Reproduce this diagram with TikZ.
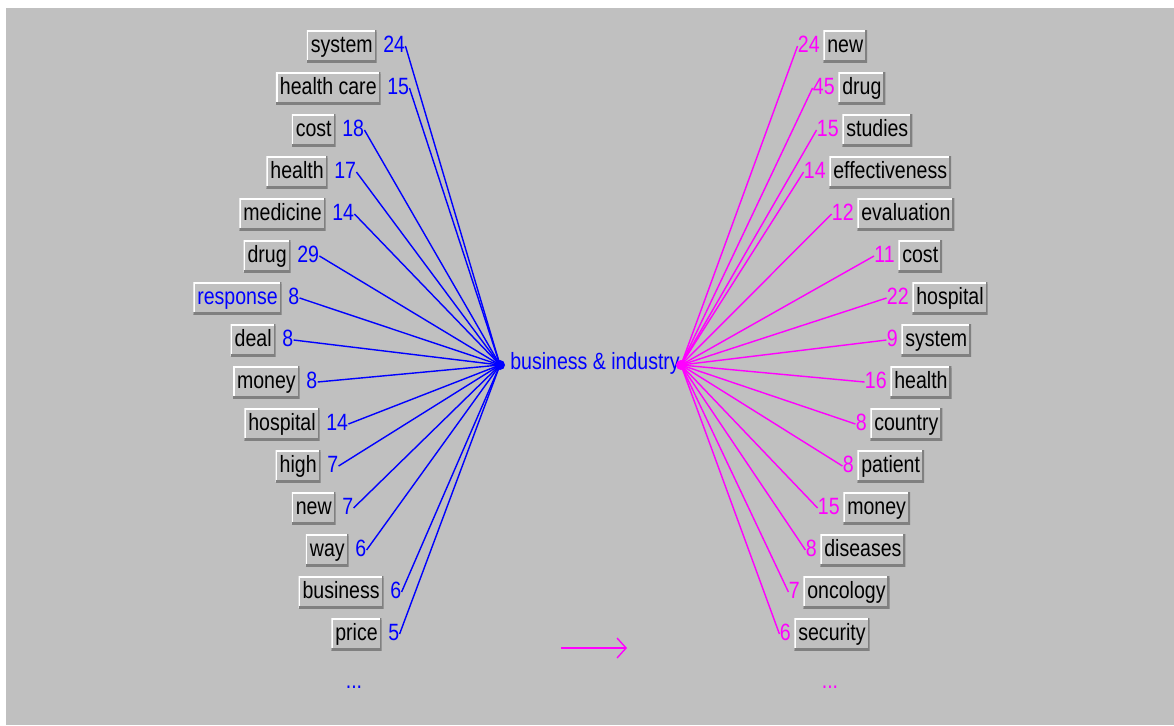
\documentclass[tikz,border=0pt]{standalone}
\usepackage{fontspec}
\setmainfont{Liberation Sans}[FakeStretch=0.83]
\usepackage{tikz}
\usepackage{xcolor}
\usetikzlibrary{positioning, arrows.meta}
\definecolor{panel}{HTML}{C0C0C0}
\definecolor{shade}{HTML}{808080}
\definecolor{leftc}{HTML}{0000FF}
\definecolor{rightc}{HTML}{FF00FF}

\begin{document}
\begin{tikzpicture}[
        x=0.02cm, y=-0.02cm,
        font=\fontsize{13.4}{16}\selectfont,
        node distance=0.12cm,
        wbox/.style={rectangle, fill=panel, text=black, inner xsep=0.08cm,
                     inner ysep=0pt, minimum height=0.64cm,
                     text height=0.36cm, text depth=0.1cm,
                     path picture={
                       \draw[draw=white, fill=none, line width=1.8pt]
                         (path picture bounding box.south west) |- (path picture bounding box.north east);
                       \draw[draw=shade, fill=none, line width=2.4pt]
                         (path picture bounding box.south west) -| (path picture bounding box.north east);
                     }},
        lnum/.style={inner sep=0pt, text height=0.36cm, text depth=0.1cm, text=leftc},
        rnum/.style={inner sep=0pt, text height=0.36cm, text depth=0.1cm, text=rightc},
        lline/.style={leftc, line width=0.8pt},
        rline/.style={rightc, line width=0.8pt},
        hub/.style={circle, inner sep=0pt, minimum size=0.2cm}
      ]
        % page and panel
        \useasboundingbox[fill=white] (0,0) rectangle (1174,725);
        \fill[panel] (6,8) rectangle (1174,725);

        % the two hubs and the topic between them
        \node[hub, fill=leftc] (hubl) at (500,365) {};
        \node[anchor=west, inner sep=0pt, text=leftc] (topic) at (510,363) {business \& industry};
        \node[hub, fill=rightc] (hubr) at (681,365) {};

        % left column
        \node[wbox, anchor=east] (lsystem) at (377,46) {system};
        \node[lnum, right=of lsystem] (nlsystem) {24};
        \node[wbox, anchor=east] (lhealthcare) at (381,88) {health care};
        \node[lnum, right=of lhealthcare] (nlhealthcare) {15};
        \node[wbox, anchor=east] (lcost) at (336,130) {cost};
        \node[lnum, right=of lcost] (nlcost) {18};
        \node[wbox, anchor=east] (lhealth) at (328,172) {health};
        \node[lnum, right=of lhealth] (nlhealth) {17};
        \node[wbox, anchor=east] (lmedicine) at (326,214) {medicine};
        \node[lnum, right=of lmedicine] (nlmedicine) {14};
        \node[wbox, anchor=east] (ldrug) at (291,256) {drug};
        \node[lnum, right=of ldrug] (nldrug) {29};
        \node[wbox, anchor=east, text=leftc] (lresponse) at (282,298) {response};
        \node[lnum, right=of lresponse] (nlresponse) {8};
        \node[wbox, anchor=east] (ldeal) at (276,340) {deal};
        \node[lnum, right=of ldeal] (nldeal) {8};
        \node[wbox, anchor=east] (lmoney) at (300,382) {money};
        \node[lnum, right=of lmoney] (nlmoney) {8};
        \node[wbox, anchor=east] (lhospital) at (320,424) {hospital};
        \node[lnum, right=of lhospital] (nlhospital) {14};
        \node[wbox, anchor=east] (lhigh) at (321,466) {high};
        \node[lnum, right=of lhigh] (nlhigh) {7};
        \node[wbox, anchor=east] (lnew) at (336,508) {new};
        \node[lnum, right=of lnew] (nlnew) {7};
        \node[wbox, anchor=east] (lway) at (349,550) {way};
        \node[lnum, right=of lway] (nlway) {6};
        \node[wbox, anchor=east] (lbusiness) at (384,592) {business};
        \node[lnum, right=of lbusiness] (nlbusiness) {6};
        \node[wbox, anchor=east] (lprice) at (382,634) {price};
        \node[lnum, right=of lprice] (nlprice) {5};
        \node[lnum] (lmore) at (354,682) {...};

        % right column
        \node[wbox, anchor=west] (rnew) at (823,46) {new};
        \node[rnum, left=0.06cm of rnew] (nrnew) {24};
        \node[wbox, anchor=west] (rdrug) at (838,88) {drug};
        \node[rnum, left=0.06cm of rdrug] (nrdrug) {45};
        \node[wbox, anchor=west] (rstudies) at (842,130) {studies};
        \node[rnum, left=0.06cm of rstudies] (nrstudies) {15};
        \node[wbox, anchor=west] (reffect) at (829,172) {effectiveness};
        \node[rnum, left=0.06cm of reffect] (nreffect) {14};
        \node[wbox, anchor=west] (reval) at (857,214) {evaluation};
        \node[rnum, left=0.06cm of reval] (nreval) {12};
        \node[wbox, anchor=west] (rcost) at (898,256) {cost};
        \node[rnum, left=0.06cm of rcost] (nrcost) {11};
        \node[wbox, anchor=west] (rhospital) at (912,298) {hospital};
        \node[rnum, left=0.06cm of rhospital] (nrhospital) {22};
        \node[wbox, anchor=west] (rsystem) at (901,340) {system};
        \node[rnum, left=0.06cm of rsystem] (nrsystem) {9};
        \node[wbox, anchor=west] (rhealth) at (890,382) {health};
        \node[rnum, left=0.06cm of rhealth] (nrhealth) {16};
        \node[wbox, anchor=west] (rcountry) at (870,424) {country};
        \node[rnum, left=0.06cm of rcountry] (nrcountry) {8};
        \node[wbox, anchor=west] (rpatient) at (857,466) {patient};
        \node[rnum, left=0.06cm of rpatient] (nrpatient) {8};
        \node[wbox, anchor=west] (rmoney) at (843,508) {money};
        \node[rnum, left=0.06cm of rmoney] (nrmoney) {15};
        \node[wbox, anchor=west] (rdiseases) at (820,550) {diseases};
        \node[rnum, left=0.06cm of rdiseases] (nrdiseases) {8};
        \node[wbox, anchor=west] (roncology) at (803,592) {oncology};
        \node[rnum, left=0.06cm of roncology] (nroncology) {7};
        \node[wbox, anchor=west] (rsecurity) at (794,634) {security};
        \node[rnum, left=0.06cm of rsecurity] (nrsecurity) {6};
        \node[rnum] (rmore) at (830,682) {...};

        % spokes into the left hub
        \draw[lline] (nlsystem.east) -- (hubl.center);
        \draw[lline] (nlhealthcare.east) -- (hubl.center);
        \draw[lline] (nlcost.east) -- (hubl.center);
        \draw[lline] (nlhealth.east) -- (hubl.center);
        \draw[lline] (nlmedicine.east) -- (hubl.center);
        \draw[lline] (nldrug.east) -- (hubl.center);
        \draw[lline] (nlresponse.east) -- (hubl.center);
        \draw[lline] (nldeal.east) -- (hubl.center);
        \draw[lline] (nlmoney.east) -- (hubl.center);
        \draw[lline] (nlhospital.east) -- (hubl.center);
        \draw[lline] (nlhigh.east) -- (hubl.center);
        \draw[lline] (nlnew.east) -- (hubl.center);
        \draw[lline] (nlway.east) -- (hubl.center);
        \draw[lline] (nlbusiness.east) -- (hubl.center);
        \draw[lline] (nlprice.east) -- (hubl.center);

        % spokes out of the right hub
        \draw[rline] (hubr.center) -- (nrnew.west);
        \draw[rline] (hubr.center) -- (nrdrug.west);
        \draw[rline] (hubr.center) -- (nrstudies.west);
        \draw[rline] (hubr.center) -- (nreffect.west);
        \draw[rline] (hubr.center) -- (nreval.west);
        \draw[rline] (hubr.center) -- (nrcost.west);
        \draw[rline] (hubr.center) -- (nrhospital.west);
        \draw[rline] (hubr.center) -- (nrsystem.west);
        \draw[rline] (hubr.center) -- (nrhealth.west);
        \draw[rline] (hubr.center) -- (nrcountry.west);
        \draw[rline] (hubr.center) -- (nrpatient.west);
        \draw[rline] (hubr.center) -- (nrmoney.west);
        \draw[rline] (hubr.center) -- (nrdiseases.west);
        \draw[rline] (hubr.center) -- (nroncology.west);
        \draw[rline] (hubr.center) -- (nrsecurity.west);

        % direction marker
        \coordinate (dirfrom) at (561,648);
        \coordinate (dirto) at (627,648);
        \draw[rline, -{Straight Barb[length=1.8mm, width=4mm]}] (dirfrom) -- (dirto);
      \end{tikzpicture}
\end{document}
